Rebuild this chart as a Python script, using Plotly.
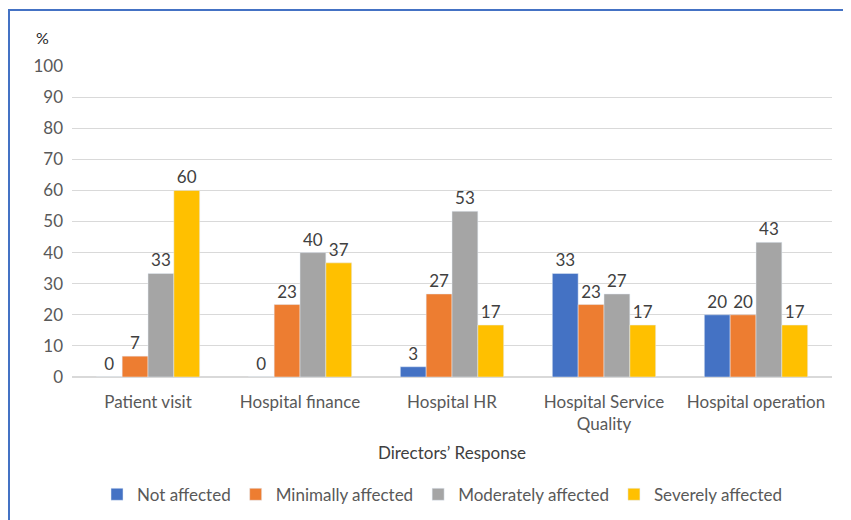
import plotly.graph_objs as go

categories = ["Patient visit", "Hospital finance", "Hospital HR",
              "Hospital Service<br>Quality", "Hospital operation"]
not_affected = [0, 0, 3.3, 33.3, 20]
minimally = [6.7, 23.3, 26.7, 23.3, 20]
moderately = [33.3, 40, 53.3, 26.7, 43.3]
severely = [60, 36.7, 16.7, 16.7, 16.7]

series = [
    ("Not affected", not_affected, "#4472C4"),
    ("Minimally affected", minimally, "#ED7D31"),
    ("Moderately affected", moderately, "#A5A5A5"),
    ("Severely affected", severely, "#FFC000"),
]

FONT = "Lato, Open Sans, sans-serif"

fig = go.Figure()
for name, vals, col in series:
    fig.add_trace(go.Bar(
        x=categories, y=vals, name=name, marker_color=col,
        text=vals, texttemplate="%{y:.0f}", textposition="outside",
        textfont=dict(size=17, color="#404040", family=FONT),
        cliponaxis=False,
    ))

# page body adds an 8px offset, so margins are shifted by that much
fig.update_layout(
    width=851, height=520,
    margin=dict(l=64, r=27, t=58, b=151, autoexpand=False),
    paper_bgcolor="white", plot_bgcolor="white",
    barmode="group", bargap=0.32, bargroupgap=0,
    font=dict(family=FONT, size=17, color="#595959"),
    showlegend=True,
    legend=dict(orientation="h", x=0.51, xanchor="center", xref="container",
                y=0.064, yanchor="middle", yref="container",
                font=dict(size=17, color="#595959"), traceorder="normal"),
    annotations=[dict(text="%", xref="paper", yref="paper", x=-0.0505, y=1.13,
                      showarrow=False, font=dict(size=16, color="#262626"))],
    shapes=[dict(type="rect", xref="paper", yref="paper", x0=-0.0829, x1=1.06,
                 y0=-0.5, y1=1.18, line=dict(color="#4472C4", width=2))],
)
fig.update_yaxes(range=[0, 100], dtick=10, showgrid=True, gridcolor="#D9D9D9",
                 zeroline=True, zerolinecolor="#D9D9D9", ticks="",
                 ticklabelstandoff=8, automargin=False,
                 tickfont=dict(size=17, color="#595959"), showline=False)
fig.update_xaxes(showline=False, ticks="", ticklabelstandoff=13, automargin=False,
                 tickfont=dict(size=17, color="#595959"),
                 title=dict(text="Directors’ Response", standoff=14,
                            font=dict(size=17, color="#404040")))

fig.write_html("out.html")
